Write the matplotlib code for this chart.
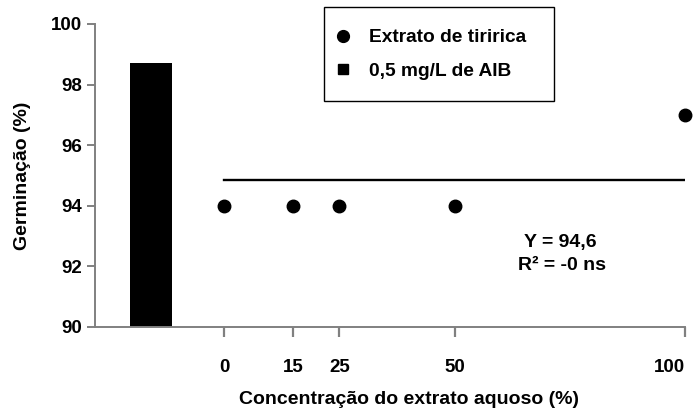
import matplotlib
matplotlib.use("Agg")
import matplotlib.pyplot as plt
from matplotlib.lines import Line2D
from matplotlib.patches import Rectangle

plt.rcParams["font.family"] = ["Liberation Sans", "DejaVu Sans"]
plt.rcParams["font.weight"] = "bold"

# data
conc = [0, 15, 25, 50, 100]
germ = [94, 94, 94, 94, 97]
aib_pos = -15.8
aib_width = 9.1
aib_value = 98.7
fit_level = 94.85
yticks = [90, 92, 94, 96, 98, 100]
legend_labels = ["Extrato de tiririca", "0,5 mg/L de AIB"]
spine_gray = "#808080"

fig = plt.figure(figsize=(6.93, 4.16), dpi=100)
ax = fig.add_axes([95 / 693, 1 - 326.7 / 416, 590 / 693, 302.7 / 416])

ax.bar([aib_pos], [aib_value], width=aib_width, color="black", zorder=2)
ax.plot([conc[0], conc[-1]], [fit_level, fit_level], color="black", lw=1.7, zorder=3)
ax.plot(conc, germ, "o", color="black", ms=9, zorder=4, clip_on=False)

ax.set_xlim(-28, 100)
ax.set_ylim(90, 100)
ax.set_xticks(conc)
ax.set_xticklabels([str(c) for c in conc])
ax.set_yticks(yticks)

for s in ("top", "right"):
    ax.spines[s].set_visible(False)
for s in ("left", "bottom"):
    ax.spines[s].set_color(spine_gray)
    ax.spines[s].set_linewidth(1.4)
ax.tick_params(axis="y", direction="out", length=6, width=1.4, color=spine_gray,
               labelsize=13.5, pad=3)
ax.tick_params(axis="x", direction="out", length=7, width=1.6, color=spine_gray,
               labelsize=13.5, pad=16)
ax.get_xticklabels()[-1].set_horizontalalignment("right")

ax.set_ylabel("Germinação (%)", fontsize=14, fontweight="bold")
ax.yaxis.set_label_coords(-0.108, 0.5)
ax.set_xlabel("Concentração do extrato aquoso (%)", fontsize=14, fontweight="bold")
ax.xaxis.set_label_coords(0.532, -0.213)

txt_kw = dict(fontsize=14, fontweight="bold", ha="center", va="center")
fig.text(560 / 693, 1 - 242 / 416, "Y = 94,6", **txt_kw)
fig.text(562 / 693, 1 - 265 / 416, "R² = -0 ns", **txt_kw)

# legend box drawn on its own, entries placed inside it
fig.patches.append(Rectangle((324 / 693, 1 - 101 / 416), 230 / 693, 94 / 416,
                             transform=fig.transFigure, fill=True, facecolor="white",
                             edgecolor="black", lw=1.0, zorder=5))
handles = [
    Line2D([], [], ls="none", marker="o", color="black", ms=8.5),
    Line2D([], [], ls="none", marker="s", color="black", ms=7.5),
]
leg = fig.legend(handles, legend_labels,
                 loc="upper left", bbox_to_anchor=(338 / 693, 1 - 29 / 416),
                 frameon=False, prop={"size": 13.8, "weight": "bold"},
                 borderpad=0, labelspacing=0.85, handlelength=0.5,
                 handletextpad=1.1, borderaxespad=0)
leg.set_zorder(6)

fig.savefig("out.png", dpi=100)
